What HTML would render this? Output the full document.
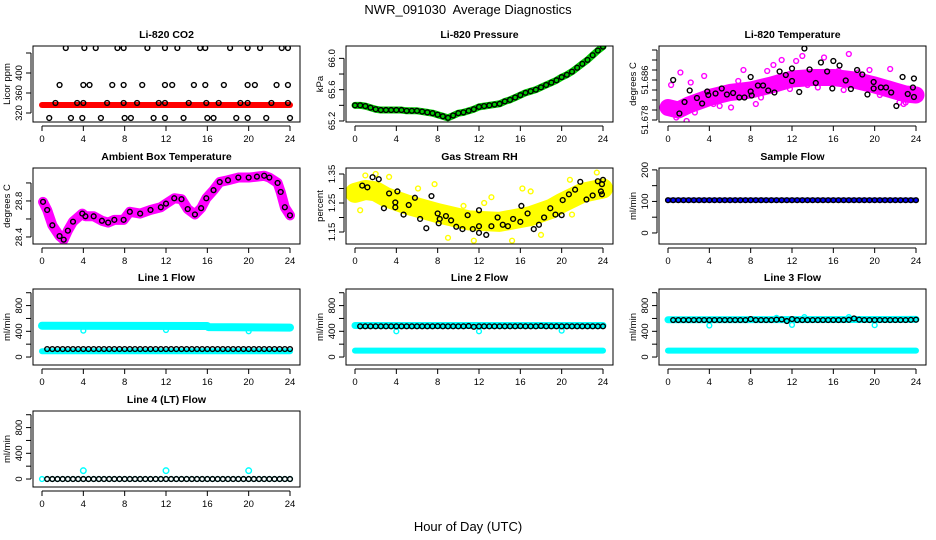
<!DOCTYPE html>
<html><head><meta charset="utf-8"><style>
html,body{margin:0;padding:0;background:#fff;}
svg{display:block;font-family:"Liberation Sans",sans-serif;}
</style></head><body>
<svg id="chart" width="936" height="540" viewBox="0 0 936 540" xmlns="http://www.w3.org/2000/svg">
<text x="468" y="14" font-size="13" text-anchor="middle" style="white-space:pre">NWR_091030&#160; Average Diagnostics</text>
<text x="468" y="531" font-size="13" text-anchor="middle">Hour of Day (UTC)</text>
</svg>
<script>
// ---- data ----
const H49 = [0,0.5,1,1.5,2,2.5,3,3.5,4,4.5,5,5.5,6,6.5,7,7.5,8,8.5,9,9.5,10,10.5,11,11.5,12,12.5,13,13.5,14,14.5,15,15.5,16,16.5,17,17.5,18,18.5,19,19.5,20,20.5,21,21.5,22,22.5,23,23.5,24];
const xTicks = [0,4,8,12,16,20,24];

const co2BandH = [0,24];
const co2BandV = [336,336];
const co2BlackH = [2.3,4.1,5.2,7.3,7.9,10.2,11.9,13.1,15.3,15.8,18.2,19.9,21.1,23.2,23.8,
 1.7,4.0,4.6,6.8,7.9,9.7,11.9,12.6,14.7,15.8,17.6,19.9,20.6,22.7,23.8,
 1.3,3.4,4.0,6.3,7.9,9.2,11.3,11.9,14.2,15.9,17.1,19.2,19.9,22.2,23.8,
 0.7,2.8,3.9,5.7,8.0,8.6,10.8,11.9,13.7,16.0,16.6,18.8,19.9,21.7,24.0];
const co2BlackV = [450,450,450,450,450,450,450,450,450,450,450,450,450,450,450,
 376,376,376,376,376,376,376,376,376,376,376,376,376,376,376,
 340,340,340,340,340,340,340,340,340,340,340,340,340,340,340,
 310,310,310,310,310,310,310,310,310,310,310,310,310,310,310];

const presV = [65.40,65.40,65.39,65.37,65.35,65.34,65.34,65.34,65.34,65.34,65.33,65.33,65.33,65.32,65.31,65.30,65.28,65.26,65.24,65.27,65.30,65.31,65.33,65.35,65.38,65.39,65.40,65.41,65.42,65.45,65.47,65.50,65.53,65.56,65.58,65.60,65.63,65.66,65.69,65.72,65.76,65.79,65.83,65.88,65.93,65.98,66.04,66.10,66.15];

const tempBandH = [0,1,2,4,6,8,10,12,14,16,18,20,22,23,24];
const tempBandV = [51.6805,51.6800,51.6810,51.6825,51.6835,51.6840,51.6850,51.6862,51.6865,51.6865,51.6860,51.6850,51.6838,51.6832,51.6830];
const tempOutH = [0.3,1.2,3.5,4.4,6.1,8.5,9.6,11.0,12.4,13.0,13.5,15.1,17.5,18.4,19.5,21.5,22.4,22.8,7.3,10.2,16.5,0.8,1.8,2.6,5.0,9.0,11.8,14.5,17.0,20.5,23.0,2.2,6.8];
const tempOutV = [51.6850,51.6875,51.6868,51.6812,51.6805,51.6812,51.6878,51.6900,51.6898,51.6908,51.6850,51.6905,51.6912,51.6875,51.6880,51.6882,51.6815,51.6812,51.6880,51.6890,51.6878,51.6785,51.6778,51.6795,51.6808,51.6825,51.6842,51.6845,51.6840,51.6830,51.6815,51.6855,51.6858];
const tempBlackH = [0.5,1.1,1.6,2.1,2.8,3.3,3.8,3.9,4.6,5.2,5.7,6.3,6.9,7.4,8.0,8.0,8.1,8.7,9.2,9.7,10.3,10.8,11.4,12.0,12.0,12.7,13.2,13.7,14.3,14.8,15.4,15.9,16.0,16.6,17.2,17.7,18.3,18.8,19.3,19.9,19.9,20.6,21.1,21.6,22.1,22.7,23.2,23.7,23.8,23.8];
const tempBlackV = [51.6860,51.6793,51.6816,51.6839,51.6824,51.6813,51.6837,51.6830,51.6833,51.6843,51.6831,51.6834,51.6825,51.6825,51.6866,51.6837,51.6829,51.6849,51.6849,51.6839,51.6835,51.6877,51.6870,51.6883,51.6858,51.6836,51.6923,51.6881,51.6854,51.6895,51.6877,51.6843,51.6898,51.6889,51.6859,51.6842,51.6880,51.6871,51.6831,51.6856,51.6843,51.6845,51.6845,51.6835,51.6808,51.6866,51.6832,51.6845,51.6863,51.6826];

const ambH = [0.1,0.5,1.0,1.7,2.1,2.5,3.0,3.9,4.2,5.0,5.8,6.4,7.0,7.9,8.5,9.5,10.5,11.5,12.0,12.8,13.5,14.1,14.8,15.4,15.9,16.6,17.2,18.0,19.0,20.0,20.8,21.5,22.0,22.8,23.1,23.5,24.0];
const ambV = [28.79,28.70,28.53,28.41,28.37,28.47,28.57,28.66,28.63,28.63,28.58,28.56,28.59,28.59,28.68,28.66,28.70,28.73,28.77,28.83,28.82,28.71,28.65,28.72,28.83,28.92,29.01,29.03,29.06,29.06,29.07,29.08,29.06,29.00,28.90,28.73,28.64];

const rhBandH = [0,1,2,3,5,8,11,14,17,19,20,22,24];
const rhBandV = [1.285,1.295,1.290,1.270,1.245,1.215,1.190,1.185,1.205,1.230,1.250,1.285,1.300];
const rhOutH = [1.0,2.0,3.3,6.1,7.7,9.0,10.5,11.5,13.2,15.2,17.0,18.0,20.8,23.4,0.5,12.5,16.2,21.0];
const rhOutV = [1.345,1.350,1.340,1.300,1.315,1.130,1.240,1.120,1.270,1.120,1.290,1.140,1.330,1.355,1.225,1.250,1.300,1.210];
const rhBlackH = [0.7,1.2,1.7,2.3,2.8,3.3,3.9,3.9,4.1,4.7,5.2,5.8,6.3,6.9,7.4,8.0,8.1,8.2,8.8,9.3,9.8,10.4,10.9,11.4,12.0,12.0,12.0,12.7,13.2,13.8,14.3,14.8,15.3,16.0,16.1,16.7,17.3,17.8,18.3,18.9,19.4,20.0,20.1,20.7,21.3,21.8,22.4,23.0,23.5,24.0,23.9,23.8,23.9];
const rhBlackV = [1.310,1.304,1.339,1.332,1.232,1.283,1.252,1.235,1.290,1.210,1.243,1.268,1.195,1.163,1.274,1.214,1.180,1.195,1.205,1.190,1.168,1.160,1.208,1.160,1.170,1.147,1.225,1.140,1.170,1.200,1.175,1.170,1.195,1.185,1.240,1.214,1.160,1.175,1.200,1.232,1.210,1.208,1.260,1.280,1.296,1.323,1.262,1.276,1.325,1.330,1.315,1.290,1.280];

const sampleBlueH = [0,24];
const sampleBlueV = [104,104];
const sampleBlackV = [104,104,104,104,104,104,104,104,104,104,104,104,104,104,104,104,104,104,104,104,104,104,104,104,104,104,104,104,104,104,104,104,104,104,104,104,104,104,104,104,104,104,104,104,104,104,104,104,104];

const l1UpperH = [0,16,16.1,24];
const l1UpperV = [487,482,465,458];
const l1LowerH = [0,24];
const l1LowerV = [90,90];
const l1OutH = [4,12,20];
const l1OutV = [410,420,400];
const l1BlackV = [124,124,124,124,124,124,124,124,124,124,124,124,124,124,124,124,124,124,124,124,124,124,124,124,124,124,124,124,124,124,124,124,124,124,124,124,124,124,124,124,124,124,124,124,124,124,124,124,124];

const l2UpperH = [0,24];
const l2UpperV = [490,490];
const l2LowerH = [0,24];
const l2LowerV = [100,100];
const l2OutH = [4,12,20];
const l2OutV = [400,400,410];
const l2BlackV = [478,478,478,478,478,478,478,478,478,478,478,478,478,478,478,478,480,478,478,478,478,478,482,470,478,478,478,478,478,478,478,478,480,478,478,478,482,478,478,478,478,478,478,478,478,478,478,478,478];

const l3UpperH = [0,24];
const l3UpperV = [580,585];
const l3LowerH = [0,24];
const l3LowerV = [100,100];
const l3OutH = [4,12,20,10.5,13.2,17.5];
const l3OutV = [490,500,495,610,620,620];
const l3BlackV = [575,575,575,575,575,575,575,575,575,575,575,575,575,575,575,575,590,575,575,575,575,580,585,560,590,575,575,575,575,575,575,575,575,575,575,578,600,580,575,575,575,575,575,575,575,575,575,578,580];

const l4OutH = [4,12,20];
const l4OutV = [130,130,130];
const l4CyanV = [0,0,0,0,0,0,0,0,0,0,0,0,0,0,0,0,0,0,0,0,0,0,0,0,0,0,0,0,0,0,0,0,0,0,0,0,0,0,0,0,0,0,0,0,0,0,0,0,0];
const l4BlackV = [0,0,0,0,0,0,0,0,0,0,0,0,0,0,0,0,0,0,0,0,0,0,0,0,0,0,0,0,0,0,0,0,0,0,0,0,0,0,0,0,0,0,0,0,0,0,0,0,0];

// ---- drawing ----
const NS = "http://www.w3.org/2000/svg";
const svg = document.getElementById('chart');
const COLS = [33,346,659], ROWS = [46,168,289,411], PW = 267, PH = 76;
let clipN = 0;
function el(tag, parent){ const e = document.createElementNS(NS, tag); parent.appendChild(e); return e; }

function panel(c, r, name, title, ylab, ymin, ymax, yt, ylabels){
  const L = COLS[c], T = ROWS[r];
  const g = el('g', svg);
  
  
  const sx = h => L + 9 + h * 248 / 24;
  const sy = v => T + PH - (v - ymin) / (ymax - ymin) * PH;
  const t = el('text', g);
  
  
  t.setAttribute('x', L + PW/2); t.setAttribute('y', T - 8);
  t.setAttribute('font-size', '10.5'); t.setAttribute('font-weight', 'bold'); t.setAttribute('text-anchor', 'middle');
  t.textContent = title;
  const xa = el('line', g);
  
  
  xa.setAttribute('x1', sx(0)); xa.setAttribute('x2', sx(24)); xa.setAttribute('y1', T+PH+4); xa.setAttribute('y2', T+PH+4); xa.setAttribute('stroke', '#000');
  xTicks.forEach(h => {
    const tk = el('line', g);
    
    
    tk.setAttribute('x1', sx(h)); tk.setAttribute('x2', sx(h)); tk.setAttribute('y1', T+PH+4); tk.setAttribute('y2', T+PH+9); tk.setAttribute('stroke', '#000');
    const tl = el('text', g);
    
    
    tl.setAttribute('x', sx(h)); tl.setAttribute('y', T+PH+20); tl.setAttribute('font-size', '9.5'); tl.setAttribute('text-anchor', 'middle');
    tl.textContent = h;
  });
  const ya = el('line', g);
  
  
  ya.setAttribute('x1', L-2); ya.setAttribute('x2', L-2); ya.setAttribute('y1', sy(yt[0])); ya.setAttribute('y2', sy(yt[yt.length-1])); ya.setAttribute('stroke', '#000');
  yt.forEach((v, i) => {
    const tk = el('line', g);
    
    
    tk.setAttribute('x1', L-7); tk.setAttribute('x2', L-2); tk.setAttribute('y1', sy(v)); tk.setAttribute('y2', sy(v)); tk.setAttribute('stroke', '#000');
    if (ylabels[i] !== '') {
      const tl = el('text', g);
      
      
      tl.setAttribute('transform', 'translate(' + (L-11) + ',' + sy(v) + ') rotate(-90)');
      tl.setAttribute('font-size', '9.5'); tl.setAttribute('text-anchor', 'middle');
      tl.textContent = ylabels[i];
    }
  });
  const yl = el('text', g);
  
  
  yl.setAttribute('transform', 'translate(' + (L-23) + ',' + (T+PH/2) + ') rotate(-90)');
  yl.setAttribute('font-size', '9.5'); yl.setAttribute('text-anchor', 'middle');
  yl.textContent = ylab;
  const cid = 'clip' + (clipN++);
  const cp = el('clipPath', g); cp.setAttribute('id', cid);
  const cr = el('rect', cp); cr.setAttribute('x', L); cr.setAttribute('y', T); cr.setAttribute('width', PW); cr.setAttribute('height', PH);
  const d = el('g', g);
  
  
  d.setAttribute('clip-path', 'url(#' + cid + ')');
  const box = el('rect', g);
  
  
  box.setAttribute('x', L); box.setAttribute('y', T); box.setAttribute('width', PW); box.setAttribute('height', PH);
  box.setAttribute('fill', 'none'); box.setAttribute('stroke', '#000'); box.setAttribute('stroke-width', '1');
  return {sx, sy, d};
}

function band(p, hs, vs, color, w){
  const pl = el('polyline', p.d);
  
  
  pl.setAttribute('points', hs.map((h, i) => p.sx(h) + ',' + p.sy(vs[i])).join(' '));
  pl.setAttribute('fill', 'none'); pl.setAttribute('stroke', color); pl.setAttribute('stroke-width', w);
  pl.setAttribute('stroke-linecap', 'round'); pl.setAttribute('stroke-linejoin', 'round');
}
function pts(p, hs, vs, color, r){
  hs.forEach((h, i) => {
    const c = el('circle', p.d);
    
    
    c.setAttribute('cx', p.sx(h)); c.setAttribute('cy', p.sy(vs[i])); c.setAttribute('r', r || 2.4);
    c.setAttribute('fill', 'none'); c.setAttribute('stroke', color); c.setAttribute('stroke-width', '1.4');
  });
}

const CY = '#00ffff', MG = '#ff00ff';

let p = panel(0,0,'co2-panel','Li-820 CO2','Licor ppm',302,454,[320,360,400,440],['320','360','400','']);
band(p, co2BandH, co2BandV, '#ff0000', 6);
pts(p, co2BlackH, co2BlackV, '#000');

p = panel(1,0,'pressure-panel','Li-820 Pressure','kPa',65.187,66.158,[65.2,65.4,65.6,65.8,66.0],['65.2','','65.6','','66.0']);
band(p, H49, presV, '#00cc00', 7);
pts(p, H49, presV, '#000');

p = panel(2,0,'li820-temperature-panel','Li-820 Temperature','degrees C',51.6776,51.6928,[51.678,51.680,51.682,51.684,51.686,51.688,51.690,51.692],['51.678','','','','51.686','','','']);
band(p, tempBandH, tempBandV, MG, 17);
pts(p, tempOutH, tempOutV, MG);
pts(p, tempBlackH, tempBlackV, '#000');

p = panel(0,1,'ambient-box-temperature-panel','Ambient Box Temperature','degrees C',28.322,29.166,[28.4,28.6,28.8,29.0],['28.4','','28.8','']);
band(p, ambH, ambV, MG, 10);
pts(p, ambH, ambV, '#000');

p = panel(1,1,'gas-stream-rh-panel','Gas Stream RH','percent',1.1086,1.3707,[1.15,1.20,1.25,1.30,1.35],['1.15','','1.25','','1.35']);
band(p, rhBandH, rhBandV, '#ffff00', 20);
pts(p, rhOutH, rhOutV, '#ffff00');
pts(p, rhBlackH, rhBlackV, '#000');

p = panel(2,1,'sample-flow-panel','Sample Flow','ml/min',-35,206,[0,50,100,150,200],['0','','100','','200']);
band(p, sampleBlueH, sampleBlueV, '#0000ff', 5);
pts(p, H49, sampleBlackV, '#000');

const flowT = [0,200,400,600,800,1000], flowL = ['0','','400','','800',''];
p = panel(0,2,'line1-flow-panel','Line 1 Flow','ml/min',-124,1058,flowT,flowL);
band(p, l1UpperH, l1UpperV, CY, 8);
band(p, l1LowerH, l1LowerV, CY, 6);
pts(p, l1OutH, l1OutV, CY);
pts(p, H49.slice(1), l1BlackV.slice(1), '#000');

p = panel(1,2,'line2-flow-panel','Line 2 Flow','ml/min',-124,1058,flowT,flowL);
band(p, l2UpperH, l2UpperV, CY, 7);
band(p, l2LowerH, l2LowerV, CY, 6);
pts(p, l2OutH, l2OutV, CY);
pts(p, H49.slice(1), l2BlackV.slice(1), '#000');

p = panel(2,2,'line3-flow-panel','Line 3 Flow','ml/min',-124,1058,flowT,flowL);
band(p, l3UpperH, l3UpperV, CY, 7);
band(p, l3LowerH, l3LowerV, CY, 6);
pts(p, l3OutH, l3OutV, CY);
pts(p, H49.slice(1), l3BlackV.slice(1), '#000');

p = panel(0,3,'line4-flow-panel','Line 4 (LT) Flow','ml/min',-124,1058,flowT,flowL);
pts(p, H49, l4CyanV, CY);
pts(p, l4OutH, l4OutV, CY, 2.8);
pts(p, H49.slice(1), l4BlackV.slice(1), '#000');
</script>
</body></html>
